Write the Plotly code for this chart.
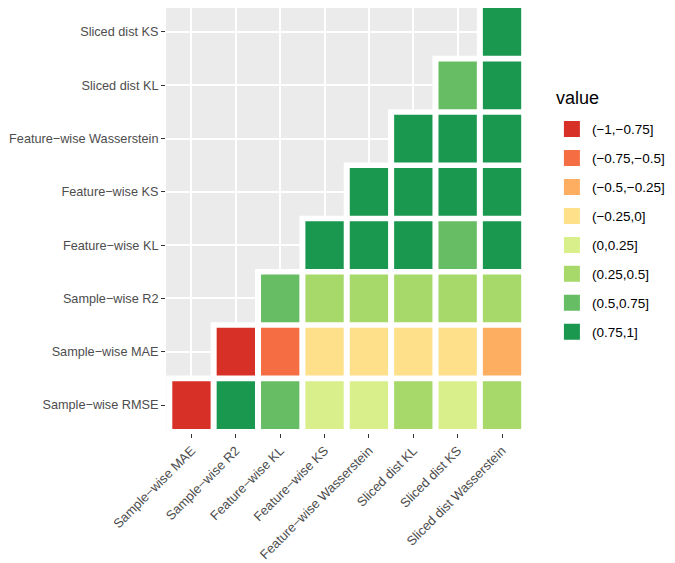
import numpy as np
import pandas as pd
import plotly.graph_objects as go

##########
## DATA ##
##########
MINUS = "\u2212"
x_labels = ["Sample-wise MAE", "Sample-wise R2", "Feature-wise KL", "Feature-wise KS",
            "Feature-wise Wasserstein", "Sliced dist KL", "Sliced dist KS", "Sliced dist Wasserstein"]
y_labels = ["Sample-wise RMSE", "Sample-wise MAE", "Sample-wise R2", "Feature-wise KL",
            "Feature-wise KS", "Feature-wise Wasserstein", "Sliced dist KL", "Sliced dist KS"]

# estimated correlations, one list per row (row k starts at column k)
row_rmse = [-0.85, 0.85, 0.60, 0.15, 0.15, 0.35, 0.15, 0.35]
row_mae  = [-0.85, -0.60, -0.10, -0.10, -0.10, -0.10, -0.35]
row_r2   = [0.60, 0.40, 0.40, 0.40, 0.40, 0.40]
row_fkl  = [0.90, 0.90, 0.90, 0.65, 0.90]
row_fks  = [0.90, 0.90, 0.90, 0.90]
row_fw   = [0.90, 0.90, 0.90]
row_skl  = [0.60, 0.90]
row_sks  = [0.90]

bin_edges  = [-1, -0.75, -0.5, -0.25, 0, 0.25, 0.5, 0.75, 1]
bin_labels = ["(-1,-0.75]", "(-0.75,-0.5]", "(-0.5,-0.25]", "(-0.25,0]",
              "(0,0.25]", "(0.25,0.5]", "(0.5,0.75]", "(0.75,1]"]
bin_colors = ["#D73027", "#F46D43", "#FDAE61", "#FEE08B", "#D9EF8B", "#A6D96A", "#66BD63", "#1A9850"]

###############
## FUNCTIONS ##
###############
def nice(s): return s.replace("-", MINUS)

rows = [row_rmse, row_mae, row_r2, row_fkl, row_fks, row_fw, row_skl, row_sks]
n = len(x_labels)
pos = list(range(1, n+1))
dx, dy = 0.068, 0.052  # half of the white tile border, in axis units

# long table of the lower triangle: row k holds columns k..n
cells = []
for k, r in enumerate(rows, start=1):
    codes = pd.cut(r, bins=bin_edges, labels=False, right=True)
    for j, c in enumerate(codes, start=k):
        cells.append((k, j, int(c)))
df = pd.DataFrame(cells, columns=["row", "col", "bin"])

##########
## MAIN ##
##########
fig = go.Figure()
# white border behind tiles
fig.add_trace(go.Bar(orientation="h", y=pos, base=[k - 0.5 - dx for k in pos],
                     x=[n + 1 - k + 2*dx for k in pos], width=1 + 2*dy,
                     marker=dict(color="white", line=dict(width=0)),
                     hoverinfo="skip", showlegend=False))
for b, (lab, c) in enumerate(zip(bin_labels, bin_colors)):
    d = df[df["bin"] == b]
    if len(d):
        fig.add_trace(go.Bar(orientation="h", y=d["row"], base=d["col"] - 0.5 + dx,
                             x=[1 - 2*dx]*len(d), width=1 - 2*dy,
                             marker=dict(color=c, line=dict(width=0)),
                             name=nice(lab), showlegend=False,
                             hovertemplate=nice(lab) + "<extra></extra>"))
    # legend key
    fig.add_trace(go.Scatter(x=[None], y=[None], mode="markers", name=nice(lab), legendgroup=lab,
                             marker=dict(symbol="square", size=16, color=c)))

# page body has an 8px margin, so the figure is sized to the visible area
xaxis_font = dict(family="Liberation Sans, Arial", size=13, color="#4D4D4D")
yaxis_font = dict(family="Liberation Sans, Arial", size=12.7, color="#4D4D4D")
fig.update_layout(width=667, height=555, margin=dict(l=158, r=148, t=0, b=130, autoexpand=False),
                  paper_bgcolor="white", plot_bgcolor="#EBEBEB", barmode="overlay",
                  font=dict(family="Liberation Sans, Arial", color="black"),
                  legend=dict(font=dict(size=13.5), x=1.069, y=0.751, xanchor="left", yanchor="top",
                              tracegroupgap=8.4, itemsizing="trace"),
                  annotations=[dict(text="value", xref="paper", yref="paper", x=1.075, y=0.788,
                                    xanchor="left", yanchor="middle", showarrow=False,
                                    font=dict(size=18, color="black"))])
fig.update_xaxes(range=[0.426, n + 0.563], tickvals=pos, ticktext=[nice(s) for s in x_labels],
                 tickangle=-45, tickfont=xaxis_font, ticks="outside", ticklen=4, tickwidth=1.2,
                 tickcolor="#333333", showgrid=True, gridcolor="white", gridwidth=1.6,
                 zeroline=False, showline=False, automargin=False)
fig.update_yaxes(range=[0.475, n + 0.45], tickvals=pos, ticktext=[nice(s) for s in y_labels],
                 tickfont=yaxis_font, ticks="outside", ticklen=4, tickwidth=1.2,
                 tickcolor="#333333", showgrid=True, gridcolor="white", gridwidth=1.6,
                 zeroline=False, showline=False, automargin=False)

fig.write_html("out.html")
